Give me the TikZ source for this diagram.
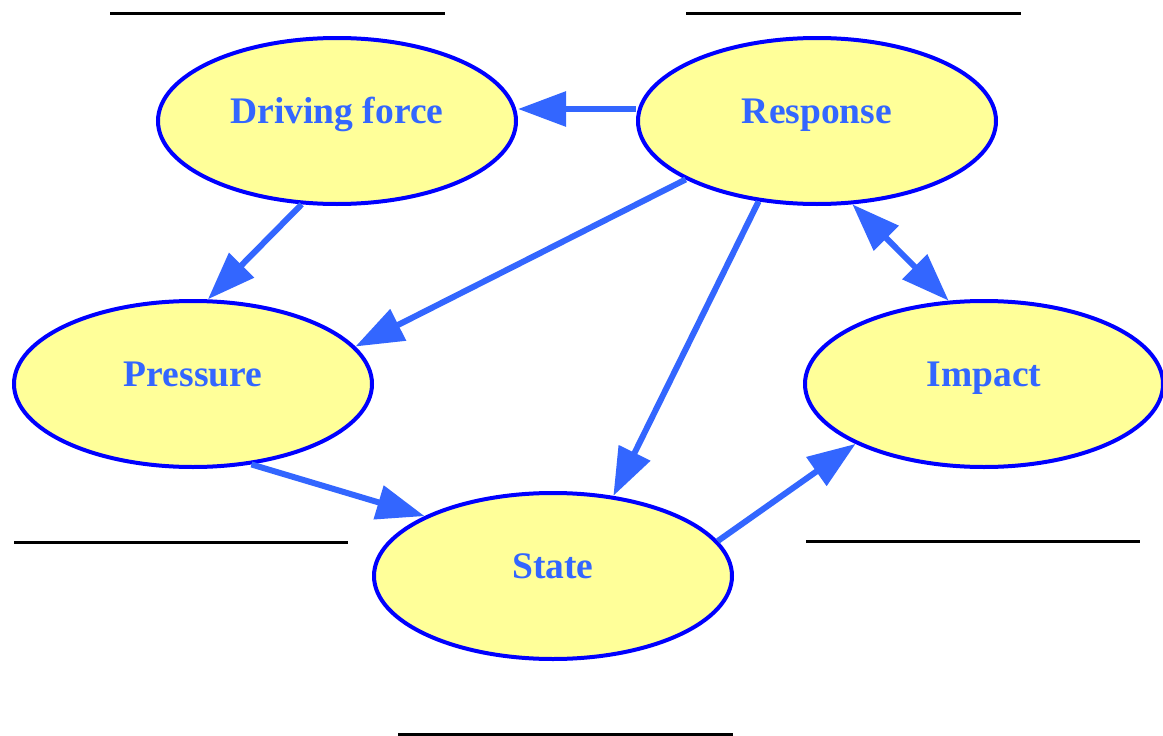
\documentclass[tikz,border=0pt]{standalone}
\usepackage{fontspec}
\setmainfont{Liberation Serif}
\usetikzlibrary{shapes.geometric,arrows.meta}
\definecolor{arrowblue}{HTML}{3366FF}
\definecolor{rimblue}{HTML}{0000FF}
\definecolor{fillyellow}{HTML}{FFFF99}
\begin{document}
\begin{tikzpicture}[x=1pt,y=-1pt,
  bubble/.style={ellipse, draw=rimblue, fill=fillyellow, line width=4pt,
    minimum width=358pt, minimum height=166pt, inner sep=0pt,
    text=arrowblue, font=\fontsize{37.5}{40}\selectfont\bfseries,
    text height=0.7em, text depth=0.12em},
  link/.style={draw=arrowblue, line width=6pt, -{Triangle[length=48pt,width=34pt]}},
  rule/.style={line width=3pt, black}]
\useasboundingbox (0,0) rectangle (1163,736);
\node[bubble] (drive) at (337,121) {Driving force};
\node[bubble] (resp) at (817,121) {Response};
\node[bubble] (press) at (193,384) {Pressure};
\node[bubble] (imp) at (984,384) {Impact};
\node[bubble] (state) at (553,576) {State};
\draw[link] ([yshift=12pt]resp.west) -- ([yshift=12pt]drive.east);
\draw[link] (drive.247) -- (press.80.8);
\draw[link] (resp.204.8) -- (press.13);
\draw[link] (resp.234.8) -- (state.53.6);
\draw[link, {Triangle[length=48pt,width=34pt]}-{Triangle[length=48pt,width=34pt]}] (resp.293.8) -- (imp.113.3);
\draw[link] (press.306.4) -- (state.155.7);
\draw[link] (state.12.5) -- (imp.205.3);
\coordinate (r1a) at (110,13); \coordinate (r1b) at (445,13);
\coordinate (r2a) at (686,13); \coordinate (r2b) at (1021,13);
\coordinate (r3a) at (14,542); \coordinate (r3b) at (348,542);
\coordinate (r4a) at (806,541); \coordinate (r4b) at (1140,541);
\coordinate (r5a) at (398,734); \coordinate (r5b) at (733,734);
\draw[rule] (r1a) -- (r1b);
\draw[rule] (r2a) -- (r2b);
\draw[rule] (r3a) -- (r3b);
\draw[rule] (r4a) -- (r4b);
\draw[rule] (r5a) -- (r5b);
\end{tikzpicture}
\end{document}
